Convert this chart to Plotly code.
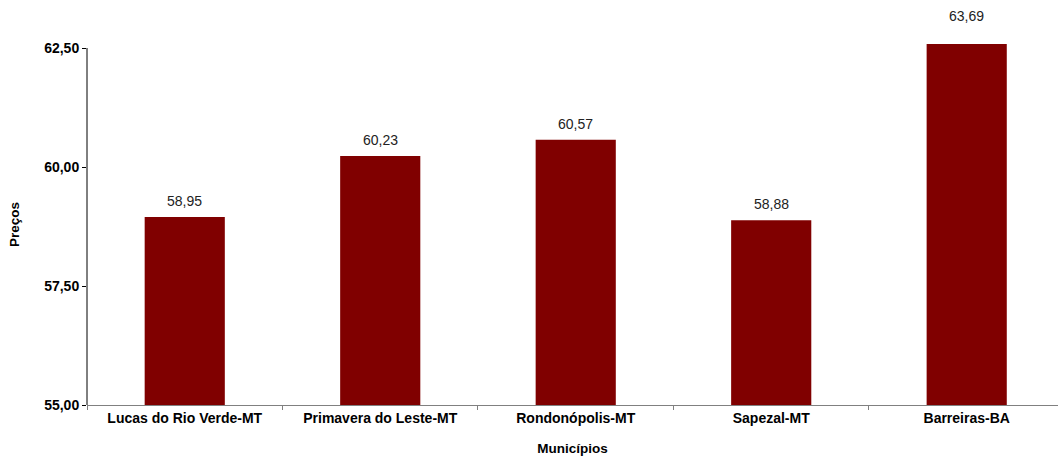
import plotly.graph_objects as go

municipios = ['Lucas do Rio Verde-MT', 'Primavera do Leste-MT', 'Rondonópolis-MT',
              'Sapezal-MT', 'Barreiras-BA']
precos = [58.95, 60.23, 60.57, 58.88, 63.69]
y_ticks = [55.0, 57.5, 60.0, 62.5]
y_tick_labels = ['55,00', '57,50', '60,00', '62,50']

y_top = 62.584

fig = go.Figure()
fig.add_trace(go.Bar(x=municipios, y=precos, marker=dict(color='#800000', line=dict(width=0)),
                     width=0.41, showlegend=False))

# rótulos de dados (vírgula decimal)
for m, v in zip(municipios, precos):
    clipped = v > y_top
    fig.add_annotation(x=m, y=min(v, y_top), text=f'{v:.2f}'.replace('.', ','),
                       showarrow=False, yanchor='bottom', yshift=18 if clipped else 6,
                       font=dict(family='Liberation Sans, Arial', size=14, color='#222'))

# linha do eixo y só até 62,50
fig.add_shape(type='line', xref='paper', yref='y', x0=0, x1=0, y0=55, y1=62.5,
              line=dict(color='black', width=1))

fig.update_layout(
    width=1058, height=457,
    margin=dict(l=87, r=0, t=44, b=52),
    plot_bgcolor='white', paper_bgcolor='white',
    font=dict(family='Liberation Sans, Arial', color='black'),
    xaxis=dict(range=[-0.5, 4.467], showline=True, linecolor='#808080', linewidth=1,
               ticks='outside', tickson='boundaries', ticklen=4, tickcolor='#808080',
               tickfont=dict(size=14, weight='bold'), automargin=False,
               title=dict(text='<b>Municípios</b>', font=dict(size=13.5), standoff=18),
               showgrid=False),
    yaxis=dict(range=[55, y_top], tickvals=y_ticks, ticktext=y_tick_labels,
               showline=False, ticks='outside', ticklen=4, tickcolor='black',
               tickfont=dict(size=14, weight='bold'), automargin=False,
               title=dict(text='<b>Preços</b>', font=dict(size=13.5), standoff=21),
               showgrid=False, zeroline=False),
)

fig.write_html('out.html', config={'displayModeBar': False},
               post_script="document.body.style.margin='0';")
